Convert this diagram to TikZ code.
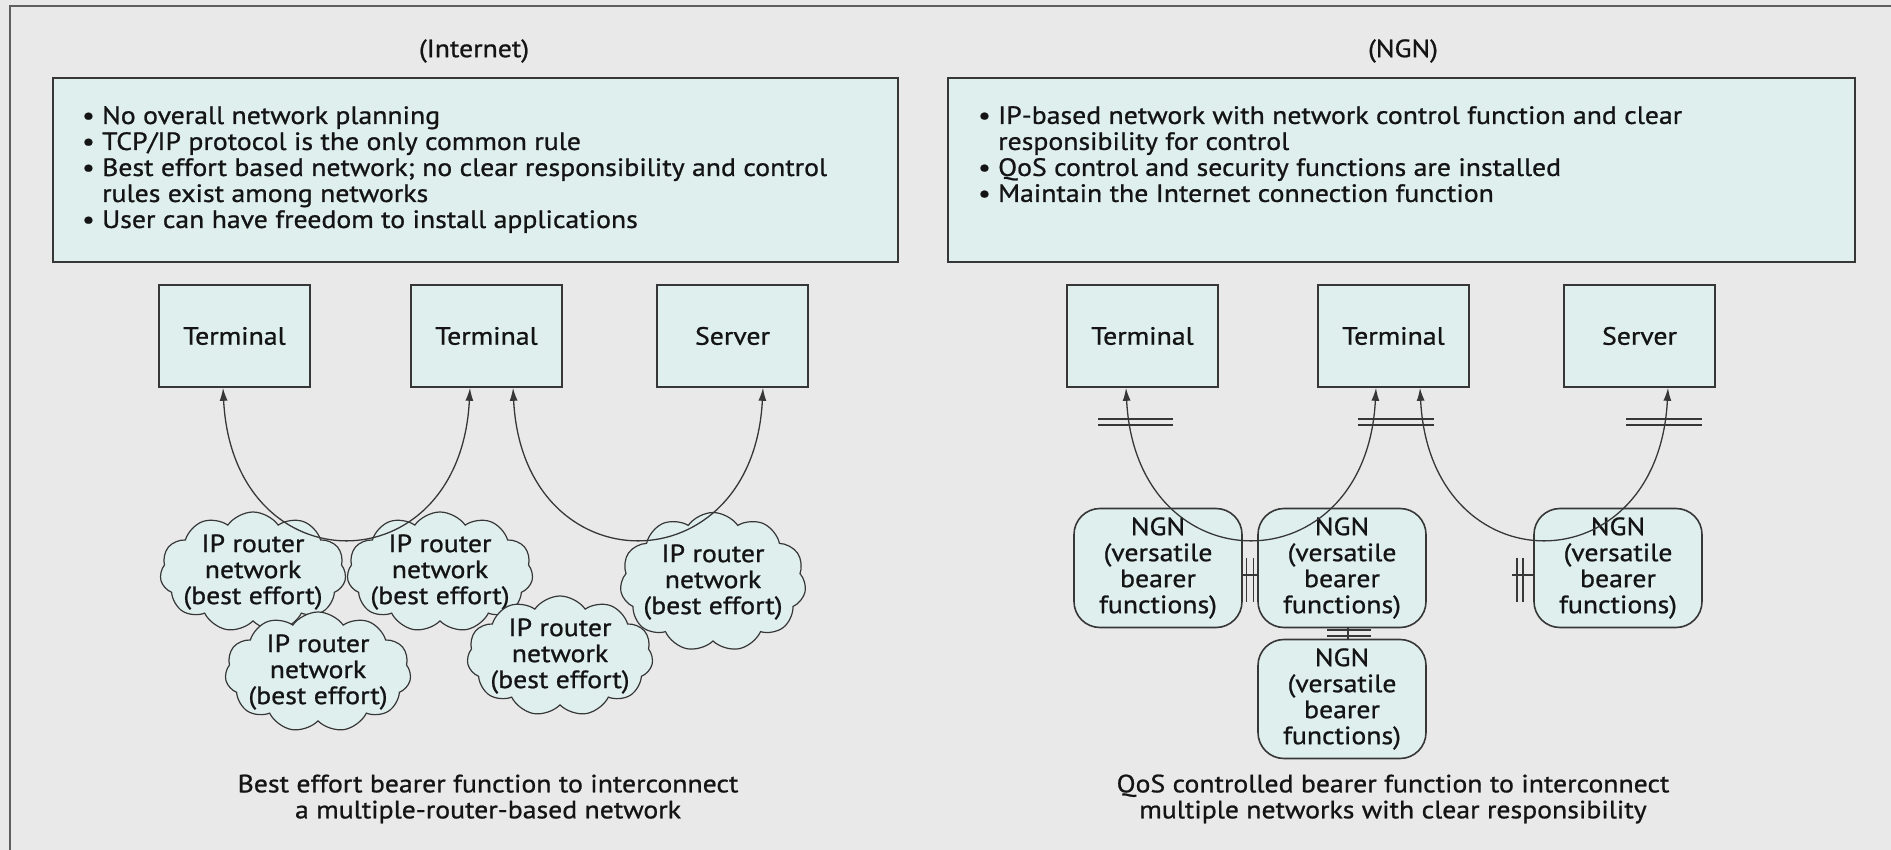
\documentclass[tikz,border=0pt]{standalone}
\usepackage{fontspec}
\setmainfont{PT Sans}[FakeStretch=1.11, FakeBold=0.9]
\usetikzlibrary{shapes.symbols,arrows.meta}

\definecolor{bgGray}{RGB}{233,233,233}
\definecolor{boxFill}{RGB}{222,239,238}
\definecolor{lineGray}{RGB}{55,55,55}

\begin{document}
\begin{tikzpicture}[x=1pt,y=-1pt,
  every node/.style={font=\fontsize{25}{26}\selectfont, text=black!92},
  box/.style={draw=lineGray, line width=1.6pt, fill=boxFill},
  term/.style={box, minimum width=151pt, minimum height=102pt},
  ngn/.style={box, rounded corners=26pt, minimum width=168pt, minimum height=119pt,
    align=center, inner sep=0pt},
  cloudy/.style={cloud, cloud puffs=11, cloud puff arc=110, aspect=1.55, draw=lineGray,
    line width=1.2pt, fill=boxFill, minimum width=186pt, minimum height=120pt, inner sep=0pt,
    label={[align=center]center:{IP router\\network\\(best effort)}}},
  link/.style={draw=lineGray, line width=1.3pt, {Latex[length=13pt,width=8pt]}-{Latex[length=13pt,width=8pt]}},
  dbar/.style={draw=lineGray, line width=1.1pt}]

  \fill[bgGray] (0,0) rectangle (1891,850);
  \useasboundingbox (0,0) rectangle (1891,850);
  \draw[lineGray!80, line width=2.5pt] (10,850) -- (10,6) -- (1891,6);

  % titles and headers
  \node (TitL) at (474,51) {(Internet)};
  \node (TitR) at (1403,51) {(NGN)};
  \node[box, minimum width=845pt, minimum height=184pt] (HL) at (475.5,170) {};
  \node[box, minimum width=907pt, minimum height=184pt] (HR) at (1401.5,170) {};

  \node[anchor=north west, align=left, inner sep=0pt] (BL) at (82,106)
    {\textbullet\ No overall network planning\\
     \textbullet\ TCP/IP protocol is the only common rule\\
     \textbullet\ Best effort based network; no clear responsibility and control\\
     \phantom{\textbullet\ }rules exist among networks\\
     \textbullet\ User can have freedom to install applications};
  \node[anchor=north west, align=left, inner sep=0pt] (BR) at (978,106)
    {\textbullet\ IP-based network with network control function and clear\\
     \phantom{\textbullet\ }responsibility for control\\
     \textbullet\ QoS control and security functions are installed\\
     \textbullet\ Maintain the Internet connection function};

  % terminals
  \node[term] (TL1) at (234.5,336) {Terminal};
  \node[term] (TL2) at (486.5,336) {Terminal};
  \node[term] (SL)  at (732.5,336) {Server};
  \node[term] (TR1) at (1142.5,336) {Terminal};
  \node[term] (TR2) at (1393.5,336) {Terminal};
  \node[term] (SR)  at (1639.5,336) {Server};

  % best effort clouds
  \node[cloudy] (C1) at (253,572) {};
  \node[cloudy] (C2) at (440,572) {};
  \node[cloudy] (C3) at (318,672) {};
  \node[cloudy, minimum height=139pt] (C5) at (713,582) {};
  \node[cloudy] (C4) at (560,656) {};

  \draw[link] ([xshift=-11.5pt]TL1.south) .. controls +(10,200) and +(-10,200) .. ([xshift=-16.5pt]TL2.south);
  \draw[link] ([xshift=26.5pt]TL2.south) .. controls +(10,200) and +(-10,200) .. ([xshift=30.5pt]SL.south);

  % NGN bearers
  \node[ngn] (N1) at (1158,568) {NGN\\(versatile\\bearer\\functions)};
  \node[ngn] (N2) at (1342,568) {NGN\\(versatile\\bearer\\functions)};
  \node[ngn] (N3) at (1342,699) {NGN\\(versatile\\bearer\\functions)};
  \node[ngn] (N4) at (1618,568) {NGN\\(versatile\\bearer\\functions)};

  \draw[link] ([xshift=-16.5pt]TR1.south) .. controls +(10,200) and +(-10,200) .. ([xshift=-17.5pt]TR2.south);
  \draw[link] ([xshift=26.5pt]TR2.south) .. controls +(10,200) and +(-10,200) .. ([xshift=28.5pt]SR.south);

  % interconnection marks
  \coordinate (S12) at (1250,575);
  \coordinate (S4) at (1512,575);
  \coordinate (S23) at (1348,633);
  \draw[dbar] (S12 -| N1.east) -- (S12 -| N2.west);
  \draw[dbar] (S4) -- (S4 -| N4.west);
  \draw[dbar] (S23 |- N2.south) -- (S23 |- N3.north);
  \draw[dbar] (S12) ++(-3.5,-17) -- ++(0,44) (S12) ++(3.5,-17) -- ++(0,44);
  \draw[dbar] (S4) ++(5,-17) -- ++(0,44) (S4) ++(11,-17) -- ++(0,44);
  \draw[dbar] (S23) ++(-21,-3) -- ++(44,0) (S23) ++(-21,3) -- ++(44,0);
  \draw[dbar] (1098,419) -- (1173,419) (1098,425) -- (1173,425);
  \draw[dbar] (1358,419) -- (1434,419) (1358,425) -- (1434,425);
  \draw[dbar] (1626,419) -- (1702,419) (1626,425) -- (1702,425);

  % captions
  \node[align=center] (CapL) at (488,799) {Best effort bearer function to interconnect\\a multiple-router-based network};
  \node[align=center] (CapR) at (1393,799) {QoS controlled bearer function to interconnect\\multiple networks with clear responsibility};
\end{tikzpicture}
\end{document}
